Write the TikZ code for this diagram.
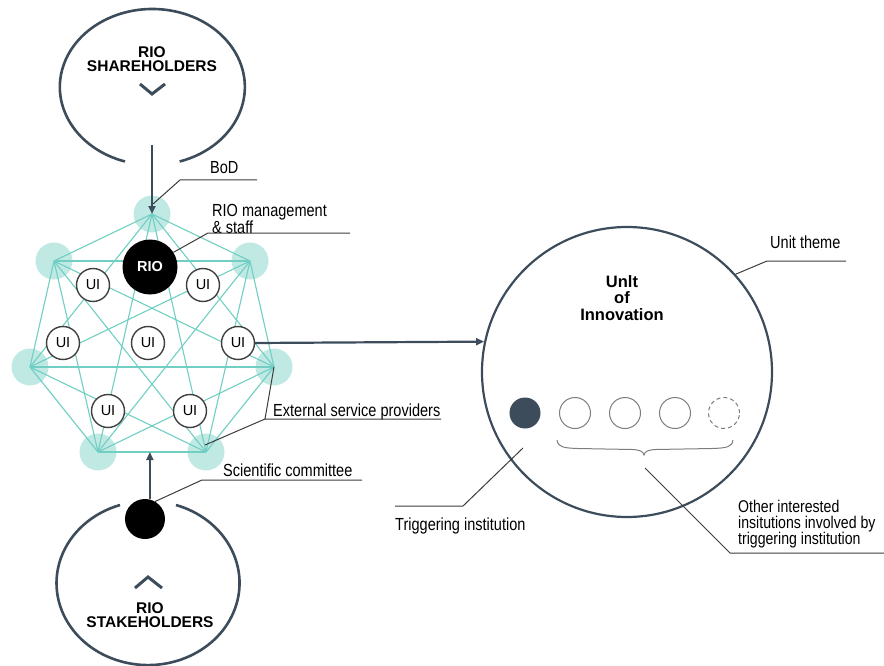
\documentclass[tikz,border=0pt]{standalone}
\usepackage{fontspec}
\setmainfont[FakeStretch=0.83]{Liberation Sans}
\newfontfamily\titlefont{Liberation Sans}
\usetikzlibrary{arrows.meta,calc}
\definecolor{slate}{RGB}{60,76,90}
\definecolor{kteal}{RGB}{112,206,194}
\definecolor{halocol}{RGB}{192,233,228}
\definecolor{leadcol}{RGB}{60,60,60}
\definecolor{ringcol}{RGB}{125,125,125}
\begin{document}
\begin{tikzpicture}[x=1pt,y=-1pt,
  halo/.style={circle,fill=halocol,minimum size=37pt,inner sep=0pt},
  kline/.style={draw=kteal,line width=1.1pt},
  uinode/.style={circle,draw=black!75,line width=1.4pt,fill=white,minimum size=33pt,inner sep=0pt,font=\titlefont\fontsize{14.5}{14.5}\selectfont},
  bigring/.style={draw=slate,line width=2.6pt},
  chev/.style={draw=slate,line width=3pt},
  mainarr/.style={draw=slate,line width=2.4pt,-{Triangle[length=8pt,width=7pt]}},
  leader/.style={draw=leadcol,line width=1pt},
  lbl/.style={inner sep=0pt,anchor=base west,font=\fontsize{17.5}{17.5}\selectfont},
  ttl/.style={inner sep=0pt,align=center,font=\titlefont\bfseries\fontsize{15.5}{14.5}\selectfont},
  smallring/.style={circle,draw=ringcol,line width=1pt,minimum size=31pt,inner sep=0pt}
]
\useasboundingbox (0,0) rectangle (884,666);

% top shareholders ring
\draw[bigring] (125,161.5) arc[start angle=107.2, end angle=432.8, x radius=92.5, y radius=78];
\node[ttl] (share) at (152,59) {RIO\\SHAREHOLDERS};
\draw[chev] (140,84) -- (152,94) -- (165,84);

% bottom stakeholders ring
\draw[bigring] (176,505) arc[start angle=-72.2, end angle=252.2, x radius=91.5, y radius=82];
\node[ttl] (stake) at (150,615) {RIO\\STAKEHOLDERS};
\draw[chev] (135,588) -- (148,577) -- (162,588);

% heptagon halos
\node[halo] (h1) at (152,214) {};
\node[halo] (h2) at (250,261) {};
\node[halo] (h3) at (274,367) {};
\node[halo] (h4) at (206,452) {};
\node[halo] (h5) at (98,452) {};
\node[halo] (h6) at (30,367) {};
\node[halo] (h7) at (54,261) {};
\foreach \i in {1,...,6}{
  \pgfmathtruncatemacro\s{\i+1}
  \foreach \j in {\s,...,7}{\draw[kline] (h\i.center) -- (h\j.center);}
}

% UI nodes and RIO
\node[circle,fill=black,minimum size=55pt,inner sep=0pt,text=white,font=\titlefont\bfseries\fontsize{14.5}{14.5}\selectfont] (rio) at (150,267) {RIO};
\node[uinode] (u1) at (93,285) {UI};
\node[uinode] (u2) at (203,285) {UI};
\node[uinode] (u3) at (63,343) {UI};
\node[uinode] (u4) at (148,343) {UI};
\node[uinode] (u5) at (238,343) {UI};
\node[uinode] (u6) at (108,411) {UI};
\node[uinode] (u7) at (190,411) {UI};

% arrows into heptagon
\coordinate (topstart) at (152,145);
\draw[mainarr] (topstart) -- (h1.center);
\node[circle,fill=black,minimum size=40pt,inner sep=0pt] (dot) at (145,519) {};
\coordinate (botedge) at ($(h4.center)!0.5!(h5.center)$);
\draw[mainarr] (dot.76) -- (dot.76 |- botedge);

% unit of innovation
\node[circle,draw=slate,line width=2.2pt,minimum size=290pt,inner sep=0pt] (unit) at (627,372) {};
\node[ttl,font=\titlefont\bfseries\fontsize{16.5}{16.5}\selectfont] (unittxt) at (622,298) {Unlt\\of\\Innovation};
\draw[draw=slate,line width=2.2pt,-{Triangle[length=8pt,width=7pt]}] (u5.east) -- (unit.168.5);

\node[circle,fill=slate,minimum size=31pt,inner sep=0pt] (t0) at (525,413) {};
\node[smallring] (t1) at (575,413) {};
\node[smallring] (t2) at (625,413) {};
\node[smallring] (t3) at (675,413) {};
\node[smallring,dashed,dash pattern=on 4pt off 3pt] (t4) at (724,413) {};
\draw[draw=ringcol,line width=1pt] (557,440) .. controls (558,447) and (563,448) .. (578,448.5) -- (632,449.5) .. controls (640,450) and (643,451) .. (644,455) .. controls (645,451) and (648,450) .. (656,449.5) -- (712,448.5) .. controls (727,448) and (732,447) .. (733,440);

% labels and leaders
\node[lbl] (bod) at (210,174) {BoD};
\coordinate (bod1) at (153,204);
\coordinate (bod2) at (180,180);
\coordinate (bod3) at (257,180);
\draw[leader] (bod1) -- (bod2) -- (bod3);

\node[lbl,align=left,font=\fontsize{17.5}{14.5}\selectfont,anchor=north west] (mgmt) at (212,204) {RIO management\\\& staff};
\coordinate (m2) at (208,233);
\coordinate (m3) at (350,233);
\draw[leader] (rio.32) -- (m2) -- (m3);

\node[lbl] (ext) at (273,416) {External service providers};
\coordinate (e2) at (265,419);
\coordinate (e3) at (441,419);
\draw[leader] (h3.center) -- (e2) -- (e3);
\draw[leader] ($(h4.center)+(-1,-7)$) -- (e2);

\node[lbl] (sci) at (223,476) {Scientific committee};
\coordinate (s2) at (202,480);
\coordinate (s3) at (362,480);
\draw[leader] (dot.60) -- (s2) -- (s3);

\node[lbl] (theme) at (770,248) {Unit theme};
\coordinate (th2) at (767,261);
\coordinate (th3) at (846,261);
\draw[leader] (unit.42) -- (th2) -- (th3);

\node[lbl] (trig) at (395,530) {Triggering institution};
\coordinate (tr1) at (523,448);
\coordinate (tr2) at (463,506);
\coordinate (tr3) at (395,506);
\draw[leader] (tr1) -- (tr2) -- (tr3);

\node[lbl,align=left,font=\fontsize{17}{16}\selectfont,anchor=north west] (other) at (738,500) {Other interested\\insitutions involved by\\triggering institution};
\coordinate (o1) at (645,468);
\coordinate (o2) at (730,553);
\coordinate (o3) at (884,553);
\draw[leader] (o1) -- (o2) -- (o3);
\end{tikzpicture}
\end{document}
